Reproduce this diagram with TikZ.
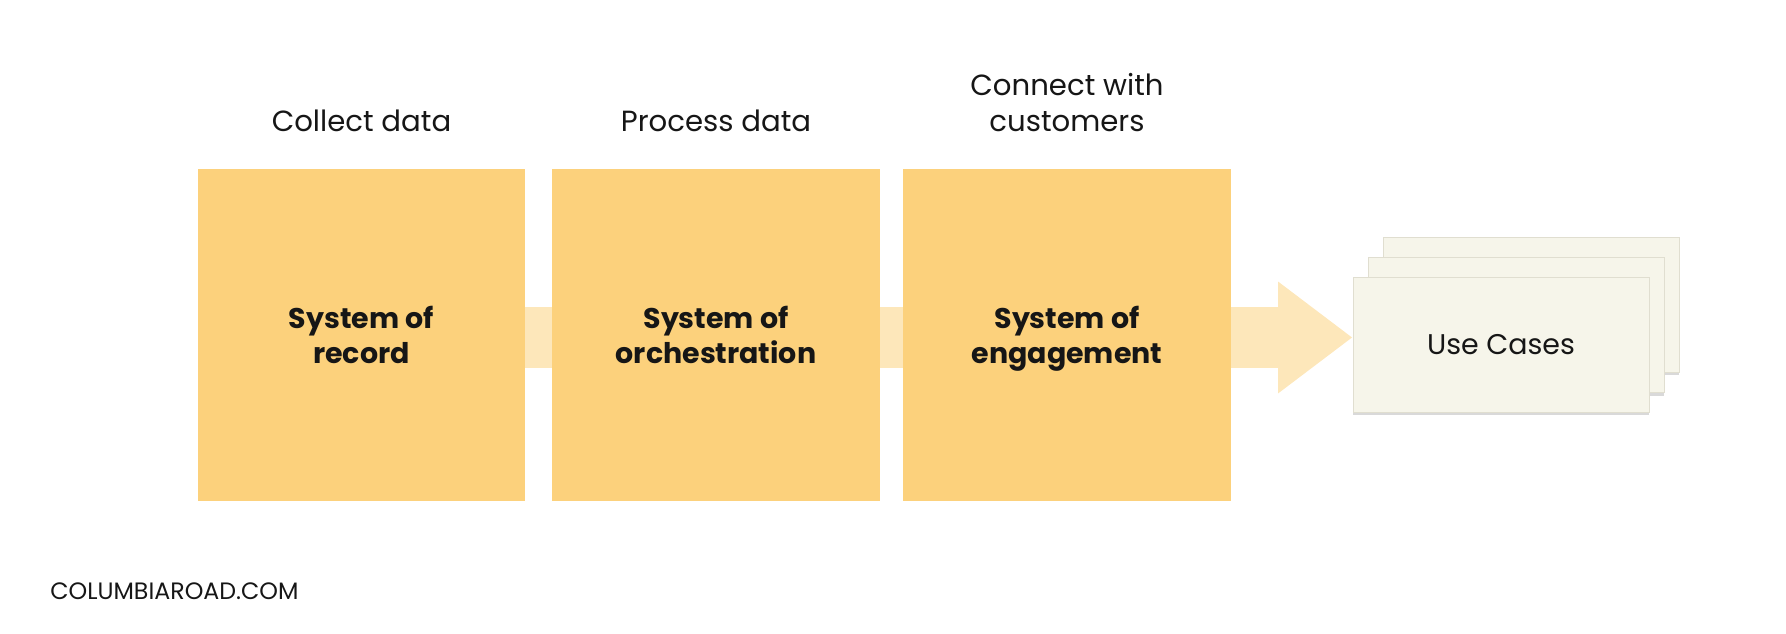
\documentclass[tikz,border=0pt]{standalone}
\usepackage{fontspec}
\setmainfont{Poppins}
\usepackage{xcolor}
\usepackage{tikz}
\usetikzlibrary{arrows.meta, positioning, shadows, backgrounds}
\definecolor{sysyellow}{RGB}{252, 209, 124}
\definecolor{bandyellow}{RGB}{253, 231, 186}
\definecolor{cardfill}{RGB}{246, 245, 234}
\definecolor{carddraw}{RGB}{224, 222, 208}
\definecolor{inkblack}{RGB}{22, 22, 22}
\tikzstyle{sysbox} = [rectangle, fill=sysyellow, minimum width=6.56cm, minimum height=6.64cm, align=center, text depth=0pt, text=inkblack, font=\fontsize{16.2}{20}\selectfont\bfseries]
\tikzstyle{stage} = [align=center, inner sep=0pt, text=inkblack, font=\fontsize{16.6}{20}\selectfont]
\tikzstyle{card} = [rectangle, draw=carddraw, fill=cardfill, minimum width=5.92cm, minimum height=2.7cm, text=inkblack, font=\fontsize{16.2}{20}\selectfont, drop shadow={shadow xshift=0pt, shadow yshift=-2pt, opacity=0.15, fill=black}]
\tikzstyle{band} = [draw=bandyellow, line width=1.232cm, -{Triangle[length=1.48cm, width=2.24cm, line width=0pt, fill=bandyellow]}]

\begin{document}
\begin{tikzpicture}[x=0.02cm, y=-0.02cm]
    \useasboundingbox (0,0) rectangle (1786,634);

    % Systems
    \node[sysbox] (rec) at (361.5, 335) {System of\\record};
    \node[sysbox] (orch) at (716, 335) {System of\\orchestration};
    \node[sysbox] (eng) at (1067, 335) {System of\\engagement};

    % Stages
    \node[stage, above=0.74cm of rec] (collect) {Collect data};
    \node[stage, above=0.74cm of orch] (process) {Process data};
    \node[stage, above=0.74cm of eng] (connect) {Connect with\\customers};

    % Use cases stack
    \node[card] (ucback) at (1531, 304.5) {};
    \node[card] (ucmid) at (1516, 325) {};
    \node[card] (uc) at (1501, 344.5) {Use Cases};

    % Flow band
    \coordinate (tip) at (1352, 337.5);
    \begin{scope}[on background layer]
        \draw[band] (rec.center |- tip) -- (tip);
    \end{scope}

    % Footer
    \node[anchor=base west, inner sep=0pt, text=inkblack, font=\fontsize{13.5}{16}\selectfont] (site) at (50, 600) {COLUMBIAROAD.COM};
\end{tikzpicture}
\end{document}
